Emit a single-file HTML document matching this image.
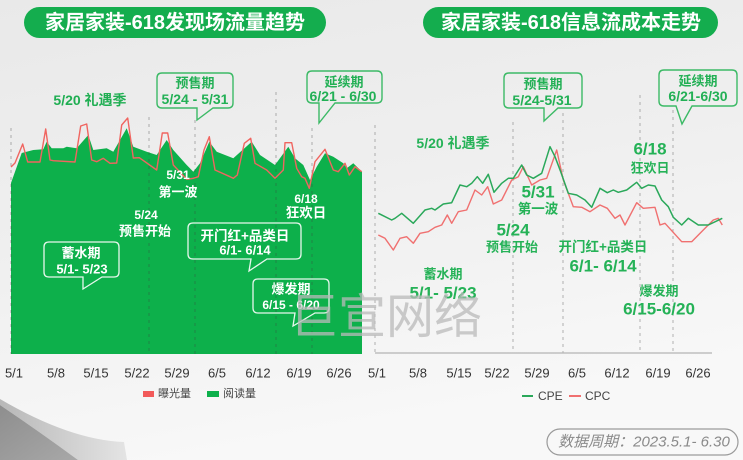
<!DOCTYPE html>
<html>
<head>
<meta charset="utf-8">
<style>
  html,body{margin:0;padding:0;}
  body{width:743px;height:460px;overflow:hidden;background:#f0f0f0;}
  svg{display:block;}
  text{font-family:"Liberation Sans","Noto Sans CJK SC",sans-serif;}
</style>
</head>
<body>
<svg width="743" height="460" viewBox="0 0 743 460" xmlns="http://www.w3.org/2000/svg">
  <defs>
    <linearGradient id="bg" x1="0" y1="0" x2="0.3" y2="1">
      <stop offset="0" stop-color="#e9e9e9"/>
      <stop offset="0.5" stop-color="#efefef"/>
      <stop offset="1" stop-color="#f8f8f8"/>
    </linearGradient>
    <linearGradient id="curlDark" x1="0" y1="0" x2="1" y2="1">
      <stop offset="0" stop-color="#8e8e8e"/>
      <stop offset="1" stop-color="#a8a8a8"/>
    </linearGradient>
    <linearGradient id="curlLight" x1="0" y1="0" x2="1" y2="0">
      <stop offset="0" stop-color="#b8b8b8"/>
      <stop offset="1" stop-color="#e4e4e4"/>
    </linearGradient>
  </defs>

  <rect x="0" y="0" width="743" height="460" fill="url(#bg)"/>

  <!-- bottom-left curl decoration -->
  <path d="M0,399 Q70,440 124,442 L127,460 L78,460 Q40,432 0,405 Z" fill="url(#curlLight)"/>
  <path d="M0,405 Q40,432 78,460 L0,460 Z" fill="url(#curlDark)"/>

  <!-- ============ LEFT CHART ============ -->
  <rect x="24" y="7" width="302" height="31" rx="15.5" fill="#14ad4e"/>
  <text x="175" y="23" text-anchor="middle" dominant-baseline="central" font-size="20" font-weight="bold" fill="#ffffff">家居家装-618发现场流量趋势</text>

  <!-- green area -->
  <polygon fill="#0db04b" points="11,183 21.7,153 33.3,150 43.3,149.3 46.7,141.7 51.7,148.3 63.3,148.3 66.7,146.7 76.7,148.3 88.3,135 93.3,150 106.7,148.3 113.3,151.7 126.7,128.3 133.3,146.7 146.7,151.7 156.7,155 166.7,140 173.3,150 186.7,165 193.3,171.7 200,163.3 209.3,141.7 216.7,151.7 233.3,158.3 251.7,141.7 260,155 275,165 288.3,146.7 295,158.3 303.3,165 310,180 316.7,166.7 325,153.3 333.3,156.7 343.3,163.3 346.7,168.3 353.3,163.3 362,171.7 362,354 11,354"/>

  <!-- dashed verticals left -->
  <g stroke="rgba(60,60,60,0.38)" stroke-width="1" stroke-dasharray="3,4">
    <line x1="11" y1="128" x2="11" y2="354"/>
    <line x1="149" y1="117" x2="149" y2="354"/>
    <line x1="195" y1="120" x2="195" y2="354"/>
    <line x1="276" y1="92" x2="276" y2="354"/>
    <line x1="312" y1="128" x2="312" y2="354"/>
  </g>

  <!-- red exposure line -->
  <polyline fill="none" stroke="#f06560" stroke-width="1.4" stroke-linejoin="round" points="11,167 15,163 22.7,144 27.7,162 40,162 45.7,129 50,160 53.3,160.7 75,162 80.7,126 86.7,124 91.7,160 96.7,161.7 103.3,158.3 110,163.3 116.7,163 121.7,125 127.7,118 133.3,158 139.3,157.7 156.7,170 162.3,133 167.7,133 173.3,165 186.7,179.3 193.3,178.3 198.3,176.7 204,150 209.3,136.7 215,170 230,176.7 233.3,178.3 237.3,175 244.3,143.3 250.7,138.3 255,163.3 266.7,170 275,178.3 283.3,170 285,142.7 291.7,142.7 296.7,168.3 301.7,176.7 305,178.3 309.3,188.3 315,161.7 325,149.3 333.3,170 338.3,171.7 345,163.3 349.3,175 355,166.7 361.7,171.7"/>

  <!-- left annotations -->
  <text x="90" y="100" text-anchor="middle" dominant-baseline="central" font-size="14" font-weight="bold" fill="#1fae52">5/20 礼遇季</text>

  <path d="M162,73 H228 Q233,73 233,78 V103 Q233,108 228,108 H213 L197,120 L197,108 H162 Q157,108 157,103 V78 Q157,73 162,73 Z" fill="none" stroke="#3cba66" stroke-width="1.4"/>
  <text x="195" y="83" text-anchor="middle" dominant-baseline="central" font-size="13" font-weight="bold" fill="#22b055">预售期</text>
  <text x="195" y="99" text-anchor="middle" dominant-baseline="central" font-size="14" font-weight="bold" fill="#22b055">5/24 - 5/31</text>

  <path d="M312,71 H377 Q382,71 382,76 V98 Q382,103 377,103 H335 L319,123 L319,103 H312 Q307,103 307,98 V76 Q307,71 312,71 Z" fill="none" stroke="#3cba66" stroke-width="1.4"/>
  <text x="344" y="82" text-anchor="middle" dominant-baseline="central" font-size="13" font-weight="bold" fill="#22b055">延续期</text>
  <text x="343" y="96" text-anchor="middle" dominant-baseline="central" font-size="14" font-weight="bold" fill="#22b055">6/21 - 6/30</text>

  <g fill="#ffffff" font-weight="bold" text-anchor="middle" dominant-baseline="central">
    <text x="178" y="175" font-size="12" dominant-baseline="central">5/31</text>
    <text x="178" y="192" font-size="13" dominant-baseline="central">第一波</text>
    <text x="306" y="199" font-size="12" dominant-baseline="central">6/18</text>
    <text x="306" y="213" font-size="13.5" dominant-baseline="central">狂欢日</text>
    <text x="146" y="215" font-size="12" dominant-baseline="central">5/24</text>
    <text x="145" y="231" font-size="13" dominant-baseline="central">预售开始</text>
  </g>

  <g fill="none" stroke="#ffffff" stroke-width="1.3" opacity="0.9">
    <path d="M193,223 H296 Q301,223 301,228 V254 Q301,259 296,259 H267 L249,271 L251,259 H193 Q188,259 188,254 V228 Q188,223 193,223 Z"/>
    <path d="M49,242 H114 Q119,242 119,247 V272 Q119,277 114,277 H102 L83,289 L83,277 H49 Q44,277 44,272 V247 Q44,242 49,242 Z"/>
    <path d="M258,279 H324 Q329,279 329,284 V308 Q329,313 324,313 H315 L293,326 L295,313 H258 Q253,313 253,308 V284 Q253,279 258,279 Z"/>
  </g>
  <g fill="#ffffff" font-weight="bold" text-anchor="middle">
    <text x="245" y="236" font-size="13.5" dominant-baseline="central">开门红+品类日</text>
    <text x="245" y="250" font-size="13" dominant-baseline="central">6/1- 6/14</text>
    <text x="81" y="253" font-size="13" dominant-baseline="central">蓄水期</text>
    <text x="82" y="269" font-size="13" dominant-baseline="central">5/1- 5/23</text>
    <text x="291" y="289" font-size="13" dominant-baseline="central">爆发期</text>
    <text x="291" y="305" font-size="12" dominant-baseline="central">6/15 - 6/20</text>
  </g>

  <!-- left x labels -->
  <g fill="#333333" font-size="13" text-anchor="middle">
    <text x="14" y="373" dominant-baseline="central">5/1</text>
    <text x="56" y="373" dominant-baseline="central">5/8</text>
    <text x="96" y="373" dominant-baseline="central">5/15</text>
    <text x="137" y="373" dominant-baseline="central">5/22</text>
    <text x="177" y="373" dominant-baseline="central">5/29</text>
    <text x="217" y="373" dominant-baseline="central">6/5</text>
    <text x="258" y="373" dominant-baseline="central">6/12</text>
    <text x="299" y="373" dominant-baseline="central">6/19</text>
    <text x="339" y="373" dominant-baseline="central">6/26</text>
  </g>

  <!-- left legend -->
  <rect x="143" y="391" width="11" height="6" fill="#f25a5a"/>
  <text x="158" y="394" font-size="11" fill="#444444" dominant-baseline="central">曝光量</text>
  <rect x="207" y="391" width="12" height="6" fill="#0db04b"/>
  <text x="223" y="394" font-size="11" fill="#444444" dominant-baseline="central">阅读量</text>

  <!-- ============ RIGHT CHART ============ -->
  <rect x="423" y="7" width="295" height="31" rx="15.5" fill="#14ad4e"/>
  <text x="571" y="23" text-anchor="middle" dominant-baseline="central" font-size="20" font-weight="bold" fill="#ffffff">家居家装-618信息流成本走势</text>

  <g stroke="rgba(90,90,90,0.45)" stroke-width="1" stroke-dasharray="3,4">
    <line x1="375" y1="125" x2="375" y2="353"/>
    <line x1="513" y1="122" x2="513" y2="353"/>
    <line x1="563" y1="113" x2="563" y2="353"/>
    <line x1="640" y1="95" x2="640" y2="353"/>
    <line x1="673" y1="110" x2="673" y2="353"/>
  </g>
  <line x1="375" y1="353" x2="712" y2="353" stroke="#b4b4b4" stroke-width="1.2"/>

  <!-- CPC -->
  <polyline fill="none" stroke="#f07070" stroke-width="1.4" stroke-linejoin="round" points="378.3,235 385,238.3 393.3,250 400,238.3 406.7,236.7 413.3,243.3 420,233.3 428.3,231.7 435,227.3 441.7,225 447.3,215 451.7,223.3 458.3,211.7 466.7,210 475,190 481.7,195 487.7,186.7 493.3,204 501.7,200 511.7,180 518.3,176.7 523.3,166.7 531.7,185 540,180 546.7,178.3 556.7,150 563.3,180 573.3,206.7 581.7,207.3 590,211.7 600,205 607.3,208.3 615,218.3 620,215 625,225 636.7,202.7 643.3,208.3 655,207.3 660,225 665,223.3 681.7,241.7 691.7,241.7 703.3,230 713.3,220 718.3,218.3 722.3,225"/>
  <!-- CPE -->
  <polyline fill="none" stroke="#2aa85a" stroke-width="1.5" stroke-linejoin="round" points="378.3,213.3 391.7,220 395,218.3 401.7,213.3 413.3,223.3 425,210 431.7,208.3 435,210 443.3,204 451.7,202.7 460,185 466.7,186.7 471.7,183.3 477.3,176.7 482.7,183.3 488.3,174.3 494,192.3 501.7,183.3 508.3,178.3 513.3,178.3 521.7,165 526.7,175 533.3,178.3 541.7,173.3 550,146.7 555,156.7 560.7,171.7 568.3,193.3 576.7,195 585,200 591.7,207.3 600,188.3 607.3,192.7 613.3,190 618.3,192.3 626.7,190 636.7,182.3 641.7,188.3 648.3,185 655,186 661.7,200 668.3,206.7 673.3,217.3 681.7,225 688.3,218.3 698.3,225 708.3,225 722.3,218.3"/>

  <!-- right callouts -->
  <path d="M509,73 H577 Q582,73 582,78 V103 Q582,108 577,108 H558 L544,121 L544,108 H509 Q504,108 504,103 V78 Q504,73 509,73 Z" fill="none" stroke="#3cba66" stroke-width="1.4"/>
  <text x="543" y="84" text-anchor="middle" dominant-baseline="central" font-size="13" font-weight="bold" fill="#22b055">预售期</text>
  <text x="542" y="100" text-anchor="middle" dominant-baseline="central" font-size="14" font-weight="bold" fill="#22b055">5/24-5/31</text>

  <path d="M664,70 H732 Q737,70 737,75 V101 Q737,106 732,106 H692 L682,124 L676,106 H664 Q659,106 659,101 V75 Q659,70 664,70 Z" fill="none" stroke="#3cba66" stroke-width="1.4"/>
  <text x="698" y="81" text-anchor="middle" dominant-baseline="central" font-size="13" font-weight="bold" fill="#22b055">延续期</text>
  <text x="698" y="96" text-anchor="middle" dominant-baseline="central" font-size="14" font-weight="bold" fill="#22b055">6/21-6/30</text>

  <!-- right annotations -->
  <g fill="#25b257" font-weight="bold" text-anchor="middle">
    <text x="453" y="143" font-size="14" dominant-baseline="central">5/20 礼遇季</text>
    <text x="650" y="149" font-size="17" dominant-baseline="central">6/18</text>
    <text x="650" y="168" font-size="13" dominant-baseline="central">狂欢日</text>
    <text x="538" y="192" font-size="17" dominant-baseline="central">5/31</text>
    <text x="538" y="209" font-size="13.5" dominant-baseline="central">第一波</text>
    <text x="513" y="230" font-size="17" dominant-baseline="central">5/24</text>
    <text x="512" y="247" font-size="13" dominant-baseline="central">预售开始</text>
    <text x="603" y="247" font-size="13.5" dominant-baseline="central">开门红+品类日</text>
    <text x="603" y="266" font-size="17" dominant-baseline="central">6/1- 6/14</text>
    <text x="443" y="274" font-size="13" dominant-baseline="central">蓄水期</text>
    <text x="443" y="293" font-size="17" dominant-baseline="central">5/1- 5/23</text>
    <text x="659" y="291" font-size="13" dominant-baseline="central">爆发期</text>
    <text x="659" y="309" font-size="17" dominant-baseline="central">6/15-6/20</text>
  </g>

  <!-- right x labels -->
  <g fill="#333333" font-size="13" text-anchor="middle">
    <text x="377" y="373" dominant-baseline="central">5/1</text>
    <text x="418" y="373" dominant-baseline="central">5/8</text>
    <text x="459" y="373" dominant-baseline="central">5/15</text>
    <text x="497" y="373" dominant-baseline="central">5/22</text>
    <text x="537" y="373" dominant-baseline="central">5/29</text>
    <text x="577" y="373" dominant-baseline="central">6/5</text>
    <text x="617" y="373" dominant-baseline="central">6/12</text>
    <text x="658" y="373" dominant-baseline="central">6/19</text>
    <text x="698" y="373" dominant-baseline="central">6/26</text>
  </g>

  <!-- right legend -->
  <line x1="522" y1="396" x2="533" y2="396" stroke="#2aa85a" stroke-width="2"/>
  <text x="538" y="396" font-size="12" fill="#444444" dominant-baseline="central">CPE</text>
  <line x1="569" y1="396" x2="581" y2="396" stroke="#f07070" stroke-width="2"/>
  <text x="585" y="396" font-size="12" fill="#444444" dominant-baseline="central">CPC</text>

  <!-- data period pill -->
  <rect x="547" y="429" width="191" height="26" rx="13" fill="none" stroke="#9a9a9a" stroke-width="1.2"/>
  <text x="644" y="442" text-anchor="middle" dominant-baseline="central" font-size="15" font-style="italic" fill="#8a8a8a">数据周期：2023.5.1- 6.30</text>

  <!-- watermark -->
  <text x="290" y="333" font-size="48" fill="rgba(185,185,185,0.75)">巨宣网络</text>
</svg>
</body>
</html>
